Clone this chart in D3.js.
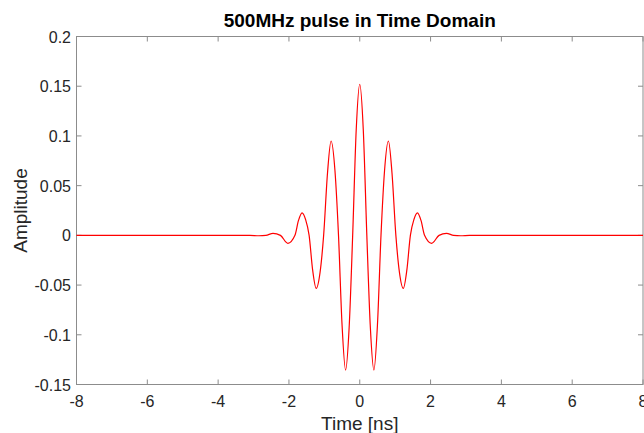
<!DOCTYPE html>
<html>
<head>
<meta charset="utf-8">
<script src="https://cdn.jsdelivr.net/npm/d3@7"></script>
<style>
  body { margin: 0; background: #fff; }
  text { font-family: "Liberation Sans", Arial, sans-serif; fill: #262626; }
</style>
</head>
<body>
<div id="chart"></div>
<script>
// values (time in ns, amplitude)
var times = [-8, -3.6, -3.1, -2.85, -2.65, -2.45, -2.24, -2.03, -1.83, -1.73, -1.63, -1.53, -1.43,
  -1.33, -1.23, -1.12, -1.02, -0.91, -0.81, -0.70, -0.60, -0.50, -0.40, -0.30, -0.20, -0.10, 0,
  0.10, 0.20, 0.30, 0.40, 0.50, 0.60, 0.70, 0.81, 0.91, 1.02, 1.12, 1.23, 1.33, 1.43,
  1.53, 1.63, 1.73, 1.83, 2.03, 2.24, 2.45, 2.65, 2.85, 3.1, 3.6, 8];
var amplitude = [0, 0, 0, -0.0004, 0, 0.002, 0, -0.008, 0, 0.015, 0.0227, 0.016, 0,
  -0.035, -0.0533, -0.037, 0, 0.063, 0.0949, 0.065, 0, -0.090, -0.1355, -0.093, 0, 0.106, 0.152,
  0.106, 0, -0.093, -0.1355, -0.090, 0, 0.065, 0.0949, 0.063, 0, -0.037, -0.0533, -0.035, 0,
  0.016, 0.0227, 0.015, 0, -0.008, 0, 0.002, 0, -0.0004, 0, 0, 0];
var xTicks = [-8, -6, -4, -2, 0, 2, 4, 6, 8];
var yTicks = [-0.15, -0.1, -0.05, 0, 0.05, 0.1, 0.15, 0.2];

var W = 644, H = 433;
var box = { left: 76.5, right: 643, top: 36.5, bottom: 384.5 };

var svg = d3.select("#chart").append("svg")
  .attr("width", W)
  .attr("height", H);

var x = d3.scaleLinear().domain([-8, 8]).range([box.left, box.right]);
var y = d3.scaleLinear().domain([-0.15, 0.2]).range([box.bottom, box.top]);

var axisColor = "#8c8c8c";

// box
svg.append("rect")
  .attr("x", box.left).attr("y", box.top)
  .attr("width", box.right - box.left).attr("height", box.bottom - box.top)
  .attr("fill", "none")
  .attr("stroke", axisColor)
  .attr("stroke-width", 1);

// ticks (inside, on all sides) and labels
xTicks.forEach(function (d) {
  svg.append("line").attr("x1", x(d)).attr("x2", x(d))
    .attr("y1", box.bottom).attr("y2", box.bottom - 5).attr("stroke", axisColor);
  svg.append("line").attr("x1", x(d)).attr("x2", x(d))
    .attr("y1", box.top).attr("y2", box.top + 5).attr("stroke", axisColor);
  svg.append("text")
    .attr("x", x(d)).attr("y", box.bottom + 22)
    .attr("text-anchor", "middle")
    .style("font-size", "16px")
    .text(d);
});

yTicks.forEach(function (d) {
  svg.append("line").attr("x1", box.left).attr("x2", box.left + 5)
    .attr("y1", y(d)).attr("y2", y(d)).attr("stroke", axisColor);
  svg.append("line").attr("x1", box.right).attr("x2", box.right - 5)
    .attr("y1", y(d)).attr("y2", y(d)).attr("stroke", axisColor);
  svg.append("text")
    .attr("x", box.left - 5.5).attr("y", y(d) + 6)
    .attr("text-anchor", "end")
    .style("font-size", "16px")
    .text(d);
});

// pulse
var line = d3.line()
  .x(function (d, i) { return x(times[i]); })
  .y(function (d) { return y(d); })
  .curve(d3.curveMonotoneX);

svg.append("path")
  .datum(amplitude)
  .attr("d", line)
  .attr("fill", "none")
  .attr("stroke", "#ff0000")
  .attr("stroke-width", 1.2);

// labels
svg.append("text")
  .attr("x", (box.left + box.right) / 2).attr("y", 27)
  .attr("text-anchor", "middle")
  .style("font-size", "19px")
  .style("font-weight", "bold")
  .style("fill", "#000")
  .text("500MHz pulse in Time Domain");

svg.append("text")
  .attr("x", (box.left + box.right) / 2).attr("y", 430)
  .attr("text-anchor", "middle")
  .style("font-size", "19px")
  .text("Time [ns]");

svg.append("text")
  .attr("transform", "translate(26.5," + ((box.top + box.bottom) / 2) + ") rotate(-90)")
  .attr("text-anchor", "middle")
  .style("font-size", "19px")
  .text("Amplitude");
</script>
</body>
</html>
